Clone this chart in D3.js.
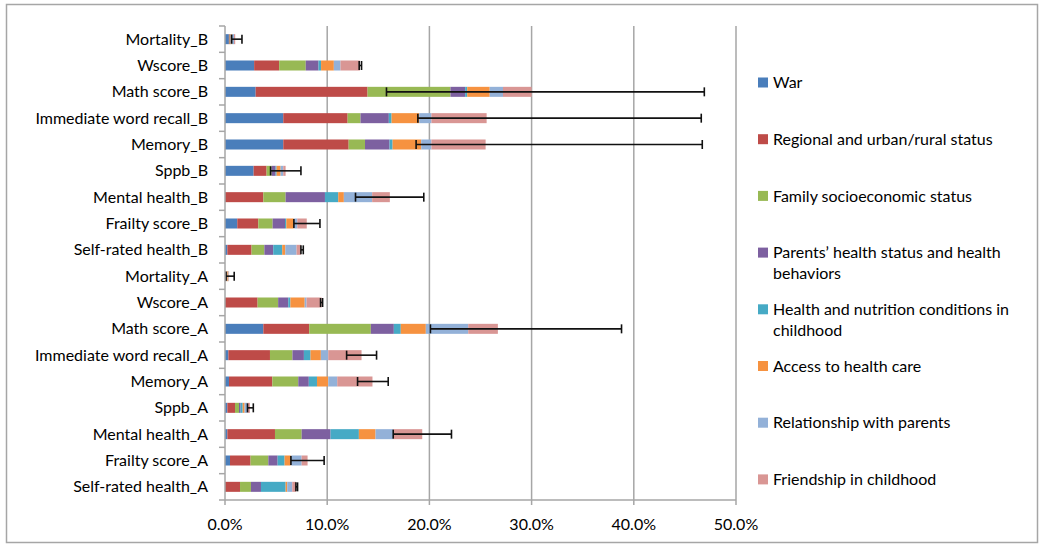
<!DOCTYPE html>
<html>
<head>
<meta charset="utf-8">
<script src="https://cdn.jsdelivr.net/npm/d3@7"></script>
<style>
  html, body { margin: 0; padding: 0; background: #fff; }
  svg { display: block; font-family: Lato, "Open Sans", sans-serif; }
</style>
</head>
<body>
<svg id="chart" width="1046" height="551"></svg>
<script>
// ---------- data (percent) ----------
const categories = [
  "Mortality_B", "Wscore_B", "Math score_B", "Immediate word recall_B", "Memory_B",
  "Sppb_B", "Mental health_B", "Frailty score_B", "Self-rated health_B",
  "Mortality_A", "Wscore_A", "Math score_A", "Immediate word recall_A", "Memory_A",
  "Sppb_A", "Mental health_A", "Frailty score_A", "Self-rated health_A"
];
const seriesNames = [
  "War", "Regional and urban/rural status", "Family socioeconomic status",
  "Parents’ health status and health behaviors", "Health and nutrition conditions in childhood",
  "Access to health care", "Relationship with parents", "Friendship in childhood"
];
const war          = [0.38, 2.85, 3.00, 5.70, 5.70, 2.80, 0.00, 1.20, 0.23, 0.05, 0.00, 3.75, 0.33, 0.39, 0.23, 0.23, 0.49, 0.00];
const regional     = [0.08, 2.45, 10.95, 6.30, 6.40, 1.27, 3.75, 2.06, 2.37, 0.10, 3.19, 4.49, 4.07, 4.24, 0.75, 4.66, 2.01, 1.47];
const family       = [0.04, 2.60, 8.11, 1.26, 1.60, 0.49, 2.18, 1.40, 1.25, 0.03, 2.01, 6.03, 2.20, 2.54, 0.39, 2.61, 1.74, 1.07];
const parents      = [0.04, 1.25, 1.44, 2.77, 2.40, 0.39, 3.85, 1.21, 0.87, 0.03, 0.99, 2.25, 1.12, 1.03, 0.16, 2.83, 0.91, 0.98];
const healthNutr   = [0.02, 0.25, 0.20, 0.27, 0.30, 0.10, 1.30, 0.13, 0.88, 0.02, 0.21, 0.68, 0.65, 0.80, 0.20, 2.77, 0.68, 2.41];
const access       = [0.12, 1.25, 2.20, 2.70, 2.80, 0.39, 0.55, 0.74, 0.30, 0.10, 1.40, 2.45, 1.01, 1.10, 0.19, 1.63, 0.62, 0.16];
const relationship = [0.20, 0.65, 1.30, 1.20, 1.00, 0.26, 2.77, 0.33, 1.10, 0.04, 0.18, 4.15, 0.72, 0.88, 0.26, 1.73, 1.05, 0.49];
const friendship   = [0.12, 1.90, 2.80, 5.40, 5.30, 0.23, 1.73, 0.93, 0.43, 0.03, 1.47, 2.90, 3.26, 3.45, 0.26, 2.84, 0.58, 0.36];
const errLow  = [0.65, 13.13, 15.8, 18.87, 18.7, 4.46, 12.77, 6.74, 7.43, 0.10, 9.35, 20.1, 11.9, 12.97, 2.20, 16.46, 6.45, 6.94];
const errHigh = [1.66, 13.36, 46.9, 46.6, 46.7, 7.43, 19.45, 9.29, 7.66, 0.90, 9.55, 38.8, 14.83, 15.97, 2.77, 22.16, 9.70, 7.10];
const xTicks = [0, 10, 20, 30, 40, 50];
const xTickLabels = ["0.0%", "10.0%", "20.0%", "30.0%", "40.0%", "50.0%"];
const colors = ["#4A7EBB", "#BE4B48", "#98B954", "#7D60A0", "#46AAC5", "#F69240", "#93B1D8", "#D99694"];

// ---------- build ----------
const seriesArrays = [war, regional, family, parents, healthNutr, access, relationship, friendship];
const rows = categories.map((c, i) => {
  const r = { cat: c };
  seriesNames.forEach((s, j) => r[s] = seriesArrays[j][i]);
  return r;
});
const stacked = d3.stack().keys(seriesNames)(rows);

const svg = d3.select("#chart");
const x = d3.scaleLinear().domain([0, 50]).range([225, 736]);
const y = d3.scaleBand().domain(categories).range([26, 500]).paddingInner(0.62).paddingOuter(0.31);
const step = y.step();

// outer border
svg.append("rect").attr("x", 6.5).attr("y", 4.5).attr("width", 1031).attr("height", 538)
  .attr("fill", "none").attr("stroke", "#a6a6a6").attr("stroke-width", 1.5);

// gridlines
svg.append("g").selectAll("line").data(xTicks.slice(1)).join("line")
  .attr("x1", d => x(d)).attr("x2", d => x(d))
  .attr("y1", 26).attr("y2", 500)
  .attr("stroke", "#a6a6a6").attr("stroke-width", 1.5);

// bars
svg.append("g").selectAll("g").data(stacked).join("g")
  .attr("fill", (d, i) => colors[i])
  .selectAll("rect").data(d => d).join("rect")
  .attr("x", d => x(d[0]))
  .attr("width", d => Math.max(0, x(d[1]) - x(d[0])))
  .attr("y", d => y(d.data.cat))
  .attr("height", y.bandwidth());

// error bars
const eg = svg.append("g").attr("stroke", "#111").attr("stroke-width", 1.6);
categories.forEach((c, i) => {
  const cy = y(c) + y.bandwidth() / 2;
  eg.append("line").attr("x1", x(errLow[i])).attr("x2", x(errHigh[i])).attr("y1", cy).attr("y2", cy);
  [errLow[i], errHigh[i]].forEach(v => {
    eg.append("line").attr("x1", x(v)).attr("x2", x(v)).attr("y1", cy - 4.5).attr("y2", cy + 4.5);
  });
});

// category axis
const yAxis = svg.append("g");
yAxis.append("line").attr("x1", 225).attr("x2", 225).attr("y1", 26).attr("y2", 500)
  .attr("stroke", "#a6a6a6").attr("stroke-width", 1.5);
d3.range(categories.length + 1).forEach(i => {
  const yy = 26 + i * step;
  yAxis.append("line").attr("x1", 219).attr("x2", 225).attr("y1", yy).attr("y2", yy)
    .attr("stroke", "#a6a6a6").attr("stroke-width", 1.5);
});
yAxis.selectAll("text").data(categories).join("text")
  .attr("x", 208).attr("y", d => y(d) + y.bandwidth() / 2)
  .attr("dy", "0.35em").attr("text-anchor", "end")
  .attr("font-size", 16).attr("fill", "#000").text(d => d);

// value axis
const xAxis = svg.append("g");
xAxis.append("line").attr("x1", 225).attr("x2", 736).attr("y1", 500).attr("y2", 500)
  .attr("stroke", "#a6a6a6").attr("stroke-width", 1.5);
xAxis.selectAll("line.t").data(xTicks).join("line").attr("class", "t")
  .attr("x1", d => x(d)).attr("x2", d => x(d)).attr("y1", 500).attr("y2", 505)
  .attr("stroke", "#a6a6a6").attr("stroke-width", 1.5);
xAxis.selectAll("text").data(xTicks).join("text")
  .attr("x", d => x(d)).attr("y", 530).attr("text-anchor", "middle")
  .attr("font-size", 16).attr("fill", "#000").text((d, i) => xTickLabels[i]);

// legend
const legendLines = [
  ["War"], ["Regional and urban/rural status"], ["Family socioeconomic status"],
  ["Parents’ health status and health", "behaviors"],
  ["Health and nutrition conditions in", "childhood"],
  ["Access to health care"], ["Relationship with parents"], ["Friendship in childhood"]
];
const lg = svg.append("g");
seriesNames.forEach((s, i) => {
  const ly = 82.5 + i * 56.7;
  lg.append("rect").attr("x", 758).attr("y", ly - 5).attr("width", 10).attr("height", 10).attr("fill", colors[i]);
  legendLines[i].forEach((t, k) => {
    lg.append("text").attr("x", 773).attr("y", ly + k * 20.7).attr("dy", "0.35em")
      .attr("font-size", 16).attr("fill", "#000").text(t);
  });
});
</script>
</body>
</html>
